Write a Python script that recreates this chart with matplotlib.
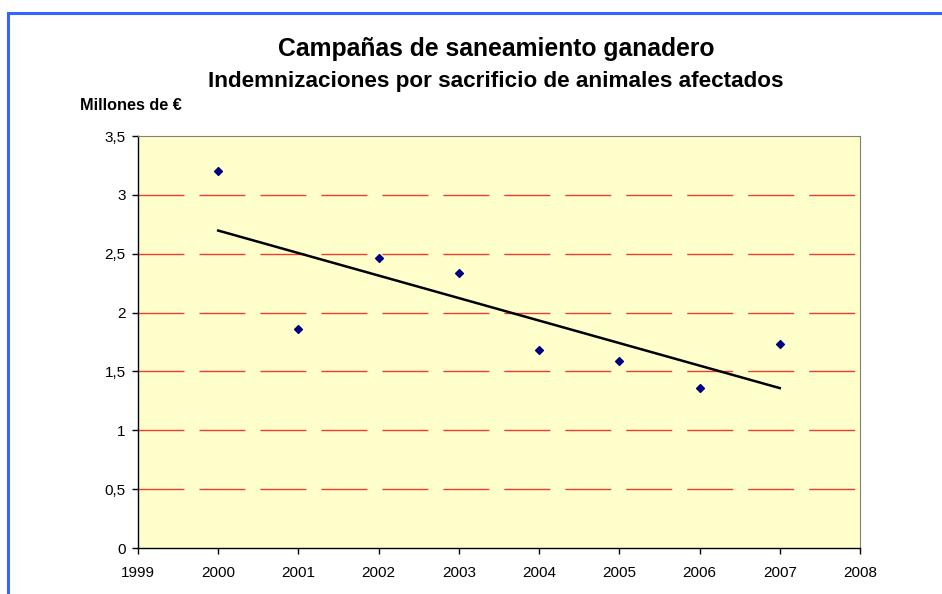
import numpy as np
import matplotlib.pyplot as plt
from matplotlib.patches import Rectangle
from matplotlib.ticker import FuncFormatter

plt.rcParams['font.family'] = ['Liberation Sans', 'DejaVu Sans']

# datos (millones de euros)
years = [2000, 2001, 2002, 2003, 2004, 2005, 2006, 2007]
values = [3.20, 1.86, 2.46, 2.34, 1.68, 1.59, 1.36, 1.73]

title1 = "Campañas de saneamiento ganadero"
title2 = "Indemnizaciones por sacrificio de animales afectados"
ylabel = "Millones de €"

W, H = 942, 594
fig = plt.figure(figsize=(W / 100, H / 100), dpi=100)
fig.patch.set_facecolor("white")

# marco azul
fig.patches.append(Rectangle((8 / W, -0.1), 1.2, (H - 13) / H + 0.1, transform=fig.transFigure,
                             fill=False, edgecolor="#3366FF", linewidth=2.2))

ax = fig.add_axes([138 / W, (H - 548) / H, (860 - 138) / W, (548 - 136) / H])
ax.set_facecolor("#FFFFCC")

# lineas de division
for yv in np.arange(0.5, 3.5, 0.5):
    ax.plot([1999, 2008], [yv, yv], color="#F03C32", linewidth=1.0,
            linestyle=(0, (33.1, 10.8)), clip_on=False, zorder=1)

# linea de tendencia (ajuste lineal)
coef = np.polyfit(years, values, 1)
xt = np.array([years[0], years[-1]])
ax.plot(xt, np.polyval(coef, xt), color="black", linewidth=1.8, zorder=2)

ax.scatter(years, values, marker="D", s=16, color="#000080", zorder=3)

ax.set_xlim(1999, 2008)
ax.set_ylim(0, 3.5)
ax.set_xticks(range(1999, 2009))
ax.set_yticks(np.arange(0, 3.51, 0.5))
ax.yaxis.set_major_formatter(FuncFormatter(lambda v, p: ("%g" % v).replace(".", ",")))
ax.tick_params(axis="both", labelsize=11, length=4, width=1, direction="out", color="black")
ax.tick_params(axis="x", pad=9)
ax.tick_params(axis="y", pad=5)

for s in ["top", "right"]:
    ax.spines[s].set_color("#808080")
for s in ["left", "bottom"]:
    ax.spines[s].set_color("black")
    ax.spines[s].set_linewidth(1)

fig.text(496 / W, 1 - 49 / H, title1, ha="center", va="center", fontsize=17.8, fontweight="bold")
fig.text(496 / W, 1 - 81 / H, title2, ha="center", va="center", fontsize=16.2, fontweight="bold")
fig.text(80 / W, 1 - 105 / H, ylabel, ha="left", va="center", fontsize=11.7, fontweight="bold")

fig.savefig("out.png", dpi=100)
